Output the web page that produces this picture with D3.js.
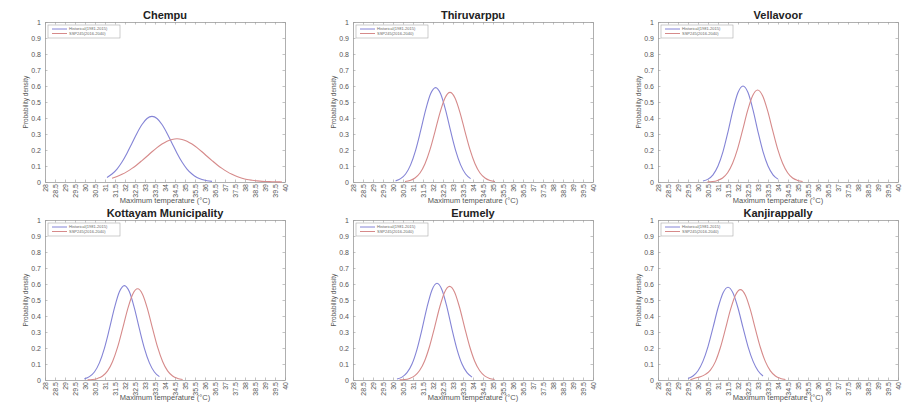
<!DOCTYPE html>
<html>
<head>
<meta charset="utf-8">
<script src="https://cdn.jsdelivr.net/npm/d3@7"></script>
<style>
  body { margin: 0; background: #fff; }
  svg { font-family: "Liberation Sans", Arial, sans-serif; }
</style>
</head>
<body>
<div id="chart"></div>
<script>
// panel titles (row by row)
var stations = ["Chempu", "Thiruvarppu", "Vellavoor", "Kottayam Municipality", "Erumely", "Kanjirappally"];
var seriesNames = ["Historical(1981-2015)", "SSP245(2016-2040)"];

// tick labels
var xTicks = [28, 28.5, 29, 29.5, 30, 30.5, 31, 31.5, 32, 32.5, 33, 33.5, 34, 34.5, 35, 35.5, 36, 36.5, 37, 37.5, 38, 38.5, 39, 39.5, 40];
var yTicks = [0, 0.1, 0.2, 0.3, 0.4, 0.5, 0.6, 0.7, 0.8, 0.9, 1];

// density curves, sampled every 0.25 degC starting at the given temperature
var step = 0.25;
var histStart = [31.1, 30.13, 30.25, 29.97, 30.2, 29.5];
var histDensity = [
  [0.028, 0.050, 0.081, 0.125, 0.180, 0.242, 0.305, 0.359, 0.397, 0.410, 0.397, 0.359, 0.305, 0.242, 0.180, 0.125, 0.081, 0.050, 0.028, 0.015, 0.008, 0.004],
  [0.007, 0.021, 0.050, 0.107, 0.198, 0.319, 0.449, 0.551, 0.590, 0.551, 0.449, 0.319, 0.198, 0.107, 0.050, 0.021],
  [0.006, 0.018, 0.045, 0.100, 0.190, 0.314, 0.451, 0.559, 0.600, 0.559, 0.451, 0.314, 0.190, 0.100, 0.045, 0.018],
  [0.007, 0.021, 0.050, 0.107, 0.198, 0.319, 0.449, 0.551, 0.590, 0.551, 0.449, 0.319, 0.198, 0.107, 0.050, 0.021],
  [0.006, 0.018, 0.046, 0.100, 0.192, 0.317, 0.454, 0.563, 0.605, 0.563, 0.454, 0.317, 0.192, 0.100, 0.046, 0.018],
  [0.010, 0.025, 0.058, 0.118, 0.209, 0.327, 0.450, 0.544, 0.580, 0.544, 0.450, 0.327, 0.209, 0.118, 0.058, 0.025]
];
var sspStart = [31.35, 30.6, 30.48, 30.13, 30.33, 29.62];
var sspDensity = [
  [0.024, 0.034, 0.048, 0.065, 0.085, 0.108, 0.134, 0.161, 0.189, 0.215, 0.237, 0.255, 0.266, 0.270, 0.266, 0.255, 0.237, 0.215, 0.189, 0.161, 0.134, 0.108, 0.085, 0.065, 0.048, 0.034, 0.024, 0.016, 0.011, 0.007, 0.004, 0.003, 0.002, 0.001, 0.000],
  [0.003, 0.009, 0.025, 0.056, 0.114, 0.202, 0.315, 0.434, 0.525, 0.560, 0.525, 0.434, 0.315, 0.202, 0.114, 0.056, 0.025, 0.009, 0.003],
  [0.001, 0.003, 0.010, 0.025, 0.058, 0.117, 0.207, 0.324, 0.446, 0.539, 0.575, 0.539, 0.446, 0.324, 0.207, 0.117, 0.058, 0.025, 0.010, 0.003],
  [0.001, 0.003, 0.010, 0.025, 0.057, 0.116, 0.205, 0.321, 0.442, 0.535, 0.570, 0.535, 0.442, 0.321, 0.205, 0.116, 0.057, 0.025, 0.010, 0.003],
  [0.001, 0.003, 0.010, 0.026, 0.059, 0.119, 0.211, 0.329, 0.453, 0.549, 0.585, 0.549, 0.453, 0.329, 0.211, 0.119, 0.059, 0.026, 0.010, 0.003],
  [0.001, 0.012, 0.020, 0.035, 0.062, 0.115, 0.203, 0.318, 0.438, 0.530, 0.565, 0.530, 0.438, 0.318, 0.203, 0.115, 0.057, 0.025, 0.010, 0.003]
];

var width = 903, height = 403;
var plotW = 240, plotH = 160;
var colLeft = [45, 353, 658];
var rowTop = [22, 220];
var xLabelOffset = [21, 20];
var histColor = "#8484d6", sspColor = "#d68a8a";

var svg = d3.select("#chart").append("svg")
    .attr("width", width)
    .attr("height", height);

var x = d3.scaleLinear().domain([28, 40]).range([0, plotW]);
var y = d3.scaleLinear().domain([0, 1]).range([plotH, 0]);

var line = d3.line()
    .x(function (d) { return x(d[0]); })
    .y(function (d) { return y(d[1]); })
    .curve(d3.curveMonotoneX);

function toPoints(start, vals) {
    return vals.map(function (v, i) { return [start + i * step, v]; });
}

stations.forEach(function (name, i) {
    var row = Math.floor(i / 3);
    var g = svg.append("g")
        .attr("transform", "translate(" + colLeft[i % 3] + "," + rowTop[row] + ")");

    // axes with inward ticks (box style)
    var xa = g.append("g").attr("class", "axis")
        .attr("transform", "translate(0," + plotH + ")")
        .call(d3.axisBottom(x).tickValues(xTicks).tickSizeInner(-2.5).tickSizeOuter(0).tickFormat(d3.format("")));
    xa.selectAll("text")
        .attr("transform", "rotate(-90)")
        .attr("text-anchor", "end")
        .attr("x", -2)
        .attr("y", 0)
        .attr("dy", "0.35em");
    g.append("g").attr("class", "axis")
        .call(d3.axisTop(x).tickValues(xTicks).tickSizeInner(-2.5).tickSizeOuter(0).tickFormat(""));
    g.append("g").attr("class", "axis")
        .call(d3.axisLeft(y).tickValues(yTicks).tickSizeInner(-2.5).tickSizeOuter(0).tickPadding(4).tickFormat(d3.format("")));
    g.append("g").attr("class", "axis")
        .attr("transform", "translate(" + plotW + ",0)")
        .call(d3.axisRight(y).tickValues(yTicks).tickSizeInner(-2.5).tickSizeOuter(0).tickFormat(""));

    g.selectAll(".axis path").attr("stroke", "#9a9a9a").attr("stroke-width", 0.8);
    g.selectAll(".axis line").attr("stroke", "#9a9a9a").attr("stroke-width", 0.6);
    g.selectAll(".axis text").attr("fill", "#555").attr("font-size", "7px");

    // curves
    g.append("path")
        .datum(toPoints(histStart[i], histDensity[i]))
        .attr("fill", "none")
        .attr("stroke", histColor)
        .attr("stroke-width", 1.1)
        .attr("d", line);
    g.append("path")
        .datum(toPoints(sspStart[i], sspDensity[i]))
        .attr("fill", "none")
        .attr("stroke", sspColor)
        .attr("stroke-width", 1.1)
        .attr("d", line);

    // title
    g.append("text")
        .attr("x", plotW / 2)
        .attr("y", -3)
        .attr("text-anchor", "middle")
        .attr("font-size", "11px")
        .attr("font-weight", "bold")
        .attr("fill", "#222")
        .text(name);

    // axis labels
    g.append("text")
        .attr("x", plotW / 2)
        .attr("y", plotH + xLabelOffset[row])
        .attr("text-anchor", "middle")
        .attr("font-size", "7.5px")
        .attr("fill", "#555")
        .text("Maximum temperature (°C)");
    g.append("text")
        .attr("transform", "translate(-17," + plotH / 2 + ") rotate(-90)")
        .attr("text-anchor", "middle")
        .attr("font-size", "6.5px")
        .attr("fill", "#555")
        .text("Probability density");

    // legend
    var lg = g.append("g").attr("transform", "translate(3,3)");
    lg.append("rect")
        .attr("width", 72).attr("height", 13)
        .attr("fill", "#fff").attr("stroke", "#aaa").attr("stroke-width", 0.6);
    [histColor, sspColor].forEach(function (c, k) {
        lg.append("line")
            .attr("x1", 4).attr("x2", 19)
            .attr("y1", 4 + k * 4.5).attr("y2", 4 + k * 4.5)
            .attr("stroke", c).attr("stroke-width", 1);
        lg.append("text")
            .attr("x", 21).attr("y", 4 + k * 4.5)
            .attr("dy", "0.35em")
            .attr("font-size", "4px")
            .attr("fill", "#666")
            .text(seriesNames[k]);
    });
});
</script>
</body>
</html>
